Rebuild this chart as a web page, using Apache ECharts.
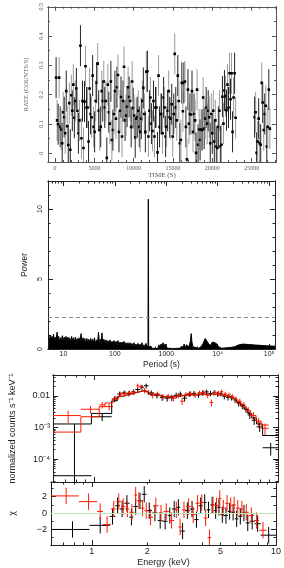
<!DOCTYPE html>
<html><head><meta charset="utf-8">
<script src="https://cdn.jsdelivr.net/npm/echarts@6/dist/echarts.min.js"></script>
<style>html,body{margin:0;padding:0;background:#fff}#c{width:284px;height:568px}</style>
</head><body><div id="c"></div>
<script>
// ---------- Light curve ----------
const lcBin = 129;            // s
const lcStartA = 130;         // first segment start (s)
const lcRateA = [0.258,0.112,0.099,0.258,0.090,0.081,0.034,0.140,0.123,0.068,
0.212,0.092,0.028,0.171,0.012,0.198,0.145,0.234,0.121,0.178,
0.221,0.145,0.068,0.112,0.367,0.051,0.178,0.018,0.176,0.297,
0.156,0.156,0.040,0.221,0.134,0.123,0.265,0.090,0.073,0.178,
0.241,0.306,0.145,0.079,0.090,0.212,0.178,0.245,0.156,0.178,
-0.016,0.234,0.140,0.101,0.245,0.045,0.079,0.134,0.212,0.118,
0.225,0.267,0.073,0.145,0.192,0.057,0.178,0.295,0.112,0.129,
0.159,0.225,0.192,0.178,0.090,0.245,0.154,0.129,0.054,0.118,
0.123,0.145,0.090,0.073,0.118,0.178,0.223,0.134,0.073,0.278,
0.280,0.057,0.145,0.190,0.101,0.076,0.178,0.057,0.156,0.156,
0.003,0.265,0.090,0.134,0.134,0.068,0.190,0.156,0.057,0.090,
0.145,0.212,0.123,0.118,0.167,0.057,0.134,0.339,0.156,0.112,
0.265,0.178,0.034,0.045,0.240,0.143,0.240,0.245,0.090,-0.021,
0.217,0.101,0.134,0.132,0.212,0.073,0.134,0.112,0.001,0.217,
0.029,0.081,0.045,0.081,0.079,0.190,0.084,0.118,0.156,0.101,
0.145,0.123,0.034,0.134,0.068,0.145,0.040,0.112,0.023,0.018,
0.090,0.145,0.023,0.029,0.193,0.101,0.214,0.195,0.147,0.234,
0.156,0.273,0.184,0.273,0.073,0.190,0.273,0.121];
const lcStartB = 25380;       // second segment start (s)
const lcRateB = [0.123,0.140,0.001,0.040,0.118,0.034,0.029,0.240,0.173,0.079,0.134,0.162,0.023,0.090,0.217,0.084];
const lcErr = 0.07;
const lcXTicks = [0,5000,10000,15000,20000,25000];
const lcXLabels = ['0','5000','10000','15000','20000','25000'];
const lcYTicks = [0,0.1,0.2,0.3,0.4,0.5];
const lcYLabels = ['0','0.1','0.2','0.3','0.4','0.5'];

// ---------- Periodogram ----------
const psPeriod = [5.2,5.4,5.6,5.8,6.0,6.2,6.4,6.7,6.9,7.2,7.5,7.8,8.1,8.4,8.8,9.1,9.5,9.9,10.3,10.7,
11.2,11.7,12.2,12.7,13.2,13.8,14.4,15,15.6,16.3,17,17.7,18.5,19.3,20,21,22,23,24,25,
26,27,28.5,30,31,32.5,34,35.5,37,38.5,40,42,44,46,48,50,52,54,56,58,
61,64,67,70,73,76,80,84,88,92,96,100,105,110,115,120,126,132,138,144,
150,157,164,172,180,188,197,206,215,225,235,246,257,269,281,294,307,321,336,352,
368,385,403,421,440,447,454,475,497,520,545,570,597,625,655,686,718,752,788,825,
864,905,948,993,1040,1090,1140,1200,1260,1320,1400,1480,1560,1650,1750,1860,1980,2100,2220,2350,
2480,2620,2780,2950,3050,3150,3300,3500,3800,4200,4700,5200,5700,6100,6600,7200,7900,8600,9400,10500,
12000,14000,17000,21000,26000,31000,40000,55000,75000,100000,130000];
const psPower = [0.95,0.55,1.0,0.6,0.9,0.5,1.05,0.55,0.85,0.6,1.2,0.55,0.9,0.5,0.8,0.6,0.95,0.5,0.85,0.6,
0.9,0.5,0.85,0.55,0.8,0.5,0.9,0.55,0.8,0.5,0.85,0.5,0.75,0.45,0.8,0.5,1.1,0.45,0.8,0.5,
0.75,0.45,0.75,0.45,0.7,0.5,0.75,0.4,0.7,0.45,0.8,0.4,0.65,0.45,1.2,0.4,0.7,0.4,1.15,0.4,
0.7,0.4,0.65,0.35,0.6,0.4,0.65,0.35,0.55,0.35,0.6,0.3,0.55,0.3,0.6,0.3,0.5,0.3,0.5,0.25,
0.55,0.25,0.45,0.25,0.45,0.2,0.45,0.2,0.4,0.15,0.45,0.15,0.35,0.15,0.4,0.1,0.35,0.1,0.45,0.1,
0.3,0.1,0.4,0.1,0.25,10.7,0.15,0.05,0.2,0.05,0.15,0.05,0.12,0.03,0.1,0.05,0.3,0.1,0.35,0.2,
0.45,0.15,0.35,0.1,0.2,0.05,0.15,0.05,0.12,0.03,0.1,0.04,0.1,0.05,0.08,0.05,0.2,0.05,0.35,0.1,
0.3,0.35,0.15,0.6,1.1,0.5,0.15,0.05,0.1,0.05,0.15,0.4,0.75,0.65,0.4,0.25,0.5,0.55,0.4,0.15,
0.05,0.08,0.1,0.15,0.3,0.35,0.32,0.28,0.25,0.22,0.2];
const psThreshold = 2.3;
const psXTicks = [10,100,1000,1e4,1e5];
const psXLabels = ['10','100','1000','10\u2074','10\u2075'];
const psYTicks = [0,5,10];
const psYLabels = ['0','5','10'];

// ---------- Spectrum (two instruments: black, red) ----------
const spBlackEdges = [0.6,0.97,1.25,1.34,1.42,1.5,1.6,1.68,1.78,1.87,1.98,2.12,2.28,2.42,2.58,2.72,2.88,3.02,3.2,3.4,3.6,3.8,4.0,4.2,4.4,4.6,4.8,5.0,5.22,5.48,5.72,5.98,6.25,6.55,6.85,7.2,7.65,8.25,10.0];
const spBlackRate = [3e-5,2.2e-3,8e-3,0.0115,0.0125,0.012,0.0135,0.016,0.019,0.021,0.0125,0.0105,0.009,0.0085,0.0088,0.0105,0.0115,0.0085,0.0115,0.012,0.0108,0.0125,0.0135,0.012,0.0128,0.0115,0.0118,0.0098,0.009,0.0088,0.0075,0.0058,0.0048,0.0038,0.0025,0.0017,0.00105,2.3e-4];
const spBlackErr = [1.25e-3,6e-4,1.6e-3,2.2e-3,2.4e-3,2.3e-3,2.6e-3,3.0e-3,3.4e-3,3.6e-3,2.5e-3,2.2e-3,2.0e-3,1.9e-3,2.0e-3,2.2e-3,2.3e-3,1.9e-3,2.2e-3,2.3e-3,2.1e-3,2.4e-3,2.5e-3,2.3e-3,2.4e-3,2.2e-3,2.2e-3,2.0e-3,1.8e-3,1.7e-3,1.5e-3,1.2e-3,1.0e-3,8.5e-4,6.5e-4,4.8e-4,3.2e-4,1.0e-4];
const spBlackModel = [1.3e-3,2.8e-3,7.0e-3,9.5e-3,0.0105,0.0115,0.0125,0.0135,0.0145,0.0135,0.0115,0.0105,0.0095,0.0092,0.0095,0.0098,0.0102,0.0105,0.0108,0.011,0.0112,0.0113,0.0114,0.0113,0.0112,0.011,0.0107,0.0102,0.0095,0.0085,0.0074,0.0062,0.005,0.0038,0.0028,0.002,0.0013,5.6e-4];
const spBlackChi = [-2.0,-1.5,-0.4,0.9,0.5,1.2,-0.5,0.8,1.5,2.3,0.3,0.0,-0.9,-1.0,-0.3,0.5,0.7,-2.2,0.3,0.5,-0.8,0.9,1.3,0.4,1.0,0.3,0.7,-0.2,-0.3,0.2,0.1,-0.7,-0.4,0.0,-1.2,-1.0,-1.3,-2.7];

const spRedEdges = [0.6,0.85,1.07,1.15,1.27,1.36,1.44,1.52,1.6,1.7,1.76,1.84,1.93,2.02,2.15,2.3,2.45,2.62,2.8,2.95,3.08,3.25,3.45,3.65,3.85,4.05,4.25,4.45,4.65,4.85,5.05,5.3,5.55,5.8,6.05,6.35,6.7,7.1,7.6,8.1,8.9];
const spRedRate = [2.4e-3,3.8e-3,5.2e-3,4.6e-3,8.5e-3,0.0115,0.012,0.0125,0.013,0.021,0.0195,0.015,0.013,0.0105,0.0115,0.0095,0.0098,0.0085,0.0105,0.0068,0.0112,0.012,0.0108,0.0125,0.013,0.0105,0.0062,0.0128,0.0122,0.0135,0.0115,0.0108,0.0095,0.0079,0.0068,0.0052,0.0035,0.0024,0.0015,0.00095];
const spRedErr = [1.0e-3,1.0e-3,1.2e-3,1.1e-3,1.6e-3,2.0e-3,2.2e-3,2.3e-3,2.4e-3,3.5e-3,3.3e-3,2.8e-3,2.5e-3,2.1e-3,2.2e-3,1.9e-3,1.9e-3,1.8e-3,2.0e-3,1.6e-3,2.1e-3,2.2e-3,2.1e-3,2.3e-3,2.4e-3,2.0e-3,1.5e-3,2.3e-3,2.2e-3,2.4e-3,2.1e-3,2.0e-3,1.8e-3,1.6e-3,1.4e-3,1.2e-3,9e-4,7e-4,5e-4,4e-4];
const spRedModel = [7.2e-4,2.2e-3,4.6e-3,6.0e-3,8.0e-3,0.0098,0.0108,0.0117,0.0127,0.0137,0.0147,0.014,0.0125,0.0112,0.0103,0.0095,0.0093,0.0096,0.01,0.0103,0.0106,0.0109,0.0111,0.0113,0.0114,0.0114,0.0113,0.0111,0.0109,0.0106,0.01,0.0092,0.0082,0.0071,0.0059,0.0046,0.0034,0.0024,0.0016,0.0012];
const spRedChi = [2.1,1.4,0.2,-1.4,0.5,1.4,0.8,0.5,0.1,2.2,1.5,0.6,0.3,-0.5,0.9,0.0,0.2,-0.9,0.4,-1.7,0.4,0.8,-0.2,1.2,1.3,-0.6,-3.0,1.0,0.9,1.8,0.6,1.2,0.9,1.0,0.6,0.5,0.1,-0.3,-0.9,-2.1];

const spXTicks = [1,2,5,10];
const spXLabels = ['1','2','5','10'];
const spYTicks = [1e-4,1e-3,0.01];
const spYLabels = ['10\u207B\u2074','10\u207B\u00B3','0.01'];
const chiTicks = [-2,0,2];
const chiLabels = ['\u22122','0','2'];

// ---------- axis ranges ----------
const LC = {xmin:-900, xmax:28100, ymin:-0.03, ymax:0.5};
const PS = {xmin:5, xmax:130000, ymin:0, ymax:12};
const SP = {xmin:0.6, xmax:10, ymin:1.9e-5, ymax:0.046};
const CHI = {ymin:-3.9, ymax:3.8};

// ---------- helpers ----------
function labelFor(ticks, labels){
  return function(v){
    for (let i=0;i<ticks.length;i++){
      const t = ticks[i];
      if ((t===0 && Math.abs(v)<1e-12) || (t!==0 && Math.abs(v/t-1)<1e-6)) return labels[i];
    }
    return '';
  };
}
function range(a,b,s){const r=[];for(let v=a;v<=b+1e-9;v+=s)r.push(+v.toFixed(6));return r;}
function logMinor(min,max){const r=[];for(let d=-6;d<=6;d++){for(let k=2;k<=9;k++){const v=k*Math.pow(10,d);if(v>=min&&v<=max)r.push(+v.toPrecision(3));}}return r;}

function axisSet(dim, grid, type, min, max, major, minor, lenMaj, lenMin, color, label, nameOpt){
  const pA = dim==='x'?'bottom':'left', pB = dim==='x'?'top':'right';
  const base = (pos, ticks, len) => ({
    gridIndex:grid, type:type, min:min, max:max, position:pos,
    axisLine:{show:true, onZero:false, lineStyle:{color:color, width:1}},
    axisTick:{show:true, inside:true, length:len, customValues:ticks, lineStyle:{color:color, width:1}},
    axisLabel:{show:false}, splitLine:{show:false}, minorTick:{show:false},
    axisPointer:{show:false}, silent:true
  });
  const a = base(pA, major, lenMaj);
  if (label) a.axisLabel = Object.assign({show:true}, label);
  if (nameOpt) Object.assign(a, nameOpt);
  return [a, base(pB, major, lenMaj), base(pA, minor, lenMin), base(pB, minor, lenMin)];
}

const serif = 'Liberation Serif';
const sans = 'Liberation Sans';
const lcCol = '#555', axCol = '#222';

const xAxes = [].concat(
  axisSet('x',0,'value',LC.xmin,LC.xmax,lcXTicks,range(0,28000,1000),4,2,lcCol,
    {customValues:lcXTicks, formatter:labelFor(lcXTicks,lcXLabels), margin:3, fontFamily:serif, fontSize:6, color:'#555'},
    {name:'TIME (S)', nameLocation:'middle', nameGap:9, nameTextStyle:{fontFamily:serif, fontSize:7, color:'#555'}}),
  axisSet('x',1,'log',PS.xmin,PS.xmax,psXTicks,logMinor(PS.xmin,PS.xmax),5,2.5,axCol,
    {customValues:psXTicks, formatter:labelFor(psXTicks,psXLabels), margin:2, fontFamily:sans, fontSize:7, color:'#222'},
    {name:'Period (s)', nameLocation:'middle', nameGap:11, nameTextStyle:{fontFamily:sans, fontSize:8.5, color:'#222'}}),
  axisSet('x',2,'log',SP.xmin,SP.xmax,[1,10],logMinor(SP.xmin,SP.xmax),5,2.5,axCol,null,null),
  axisSet('x',3,'log',SP.xmin,SP.xmax,[1,10],logMinor(SP.xmin,SP.xmax),5,2.5,axCol,
    {customValues:spXTicks, formatter:labelFor(spXTicks,spXLabels), margin:2, fontFamily:sans, fontSize:9, color:'#222'},
    {name:'Energy (keV)', nameLocation:'middle', nameGap:13, nameTextStyle:{fontFamily:sans, fontSize:9, color:'#222'}})
);
const yAxes = [].concat(
  axisSet('y',0,'value',LC.ymin,LC.ymax,lcYTicks,range(0,0.5,0.05),4,2,lcCol,
    {customValues:lcYTicks, formatter:labelFor(lcYTicks,lcYLabels), rotate:90, margin:4, fontFamily:serif, fontSize:6, color:'#555'},
    {name:'RATE (COUNTS/S)', nameLocation:'middle', nameGap:12, nameRotate:90, nameTextStyle:{fontFamily:serif, fontSize:6.5, color:'#555'}}),
  axisSet('y',1,'value',PS.ymin,PS.ymax,psYTicks,range(0,12,1),5,2.5,axCol,
    {customValues:psYTicks, formatter:labelFor(psYTicks,psYLabels), rotate:90, margin:4, fontFamily:sans, fontSize:7, color:'#222'},
    {name:'Power', nameLocation:'middle', nameGap:19, nameRotate:90, nameTextStyle:{fontFamily:sans, fontSize:8.5, color:'#222'}}),
  axisSet('y',2,'log',SP.ymin,SP.ymax,spYTicks,logMinor(SP.ymin,SP.ymax),5,2.5,axCol,
    {customValues:spYTicks, formatter:labelFor(spYTicks,spYLabels), margin:3, fontFamily:sans, fontSize:9, color:'#222'},
    {name:'normalized counts s\u207B\u00B9 keV\u207B\u00B9', nameLocation:'middle', nameGap:36, nameRotate:90, nameTextStyle:{fontFamily:sans, fontSize:9, color:'#222'}}),
  axisSet('y',3,'value',CHI.ymin,CHI.ymax,chiTicks,[-3,-1,1,3],5,2.5,axCol,
    {customValues:chiTicks, formatter:labelFor(chiTicks,chiLabels), margin:4, fontFamily:sans, fontSize:9, color:'#222'},
    {name:'\u03C7', nameLocation:'middle', nameGap:34, nameRotate:90, nameTextStyle:{fontFamily:sans, fontSize:9, color:'#222'}})
);

// ---------- data assembly ----------
const lcData = lcRateA.map((r,i)=>[lcStartA+i*lcBin, r, lcErr]).concat(lcRateB.map((r,i)=>[lcStartB+i*lcBin, r, lcErr]));
const psData = psPeriod.map((p,i)=>[p, psPower[i]]);
function crossData(edges, vals, errs){return vals.map((v,i)=>[edges[i], edges[i+1], (edges[i]+edges[i+1])/2, v, errs[i]]);}
function stepData(edges, model){const d=model.map((m,i)=>[edges[i],m]); d.push([edges[edges.length-1], model[model.length-1]]); return d;}
const ones = n => new Array(n).fill(1);

function lcItem(params, api){
  const t=api.value(0), r=api.value(1), e=api.value(2);
  const lo=Math.max(r-e,LC.ymin), hi=Math.min(r+e,LC.ymax);
  const p0=api.coord([t,lo]), p1=api.coord([t,hi]), pc=api.coord([t,r]);
  const col = params.dataIndex%2 ? '#9a9a9a' : '#222';
  return {type:'group', children:[
    {type:'line', shape:{x1:p0[0],y1:p0[1],x2:p1[0],y2:p1[1]}, style:{stroke:col, lineWidth:1}},
    {type:'rect', shape:{x:pc[0]-1.3,y:pc[1]-1.3,width:2.6,height:2.6}, style:{fill:'#000'}}
  ]};
}
function crossItem(color, ymin, ymax){
  return function(params, api){
    const a=api.value(0), b=api.value(1), c=api.value(2), v=api.value(3), e=api.value(4);
    const lo=Math.max(v-e,ymin), hi=Math.min(v+e,ymax), vv=Math.max(v,ymin);
    const h0=api.coord([a,vv]), h1=api.coord([b,vv]), v0=api.coord([c,lo]), v1=api.coord([c,hi]);
    return {type:'group', children:[
      {type:'line', shape:{x1:h0[0],y1:h0[1],x2:h1[0],y2:h1[1]}, style:{stroke:color, lineWidth:1}},
      {type:'line', shape:{x1:v0[0],y1:v0[1],x2:v1[0],y2:v1[1]}, style:{stroke:color, lineWidth:1}}
    ]};
  };
}
const RED = '#ff1a00';

const option = {
  animation:false,
  backgroundColor:'#fff',
  grid:[
    {left:48, top:3, width:228, height:159},
    {left:48, top:181, width:227, height:168},
    {left:49, top:375, width:229, height:107},
    {left:49, top:482, width:229, height:64}
  ],
  xAxis:xAxes, yAxis:yAxes,
  series:[
    {type:'custom', xAxisIndex:0, yAxisIndex:0, renderItem:lcItem, data:lcData, silent:true, clip:true},
    {type:'line', xAxisIndex:4, yAxisIndex:4, data:psData, showSymbol:false, symbol:'none', silent:true,
      lineStyle:{color:'#000', width:1}, areaStyle:{color:'#000', opacity:1},
      markLine:{silent:true, symbol:['none','none'], label:{show:false}, lineStyle:{type:[4,3], color:'#888', width:1},
        data:[{yAxis:psThreshold}]}},
    {type:'custom', xAxisIndex:8, yAxisIndex:8, renderItem:crossItem('#000',SP.ymin,SP.ymax), data:crossData(spBlackEdges,spBlackRate,spBlackErr), silent:true},
    {type:'custom', xAxisIndex:8, yAxisIndex:8, renderItem:crossItem(RED,SP.ymin,SP.ymax), data:crossData(spRedEdges,spRedRate,spRedErr), silent:true},
    {type:'line', xAxisIndex:8, yAxisIndex:8, step:'end', data:stepData(spBlackEdges,spBlackModel), showSymbol:false, symbol:'none', silent:true, lineStyle:{color:'#000', width:1}},
    {type:'line', xAxisIndex:8, yAxisIndex:8, step:'end', data:stepData(spRedEdges,spRedModel), showSymbol:false, symbol:'none', silent:true, lineStyle:{color:RED, width:1}},
    {type:'line', xAxisIndex:12, yAxisIndex:12, data:[], silent:true,
      markLine:{silent:true, symbol:['none','none'], label:{show:false}, lineStyle:{type:'solid', color:'#b8e6b8', width:1}, data:[{yAxis:0}]}},
    {type:'custom', xAxisIndex:12, yAxisIndex:12, renderItem:crossItem('#000',CHI.ymin,CHI.ymax), data:crossData(spBlackEdges,spBlackChi,ones(spBlackChi.length)), silent:true},
    {type:'custom', xAxisIndex:12, yAxisIndex:12, renderItem:crossItem(RED,CHI.ymin,CHI.ymax), data:crossData(spRedEdges,spRedChi,ones(spRedChi.length)), silent:true}
  ]
};
const chart = echarts.init(document.getElementById('c'), null, {renderer:'canvas'});
chart.setOption(option);
</script></body></html>
